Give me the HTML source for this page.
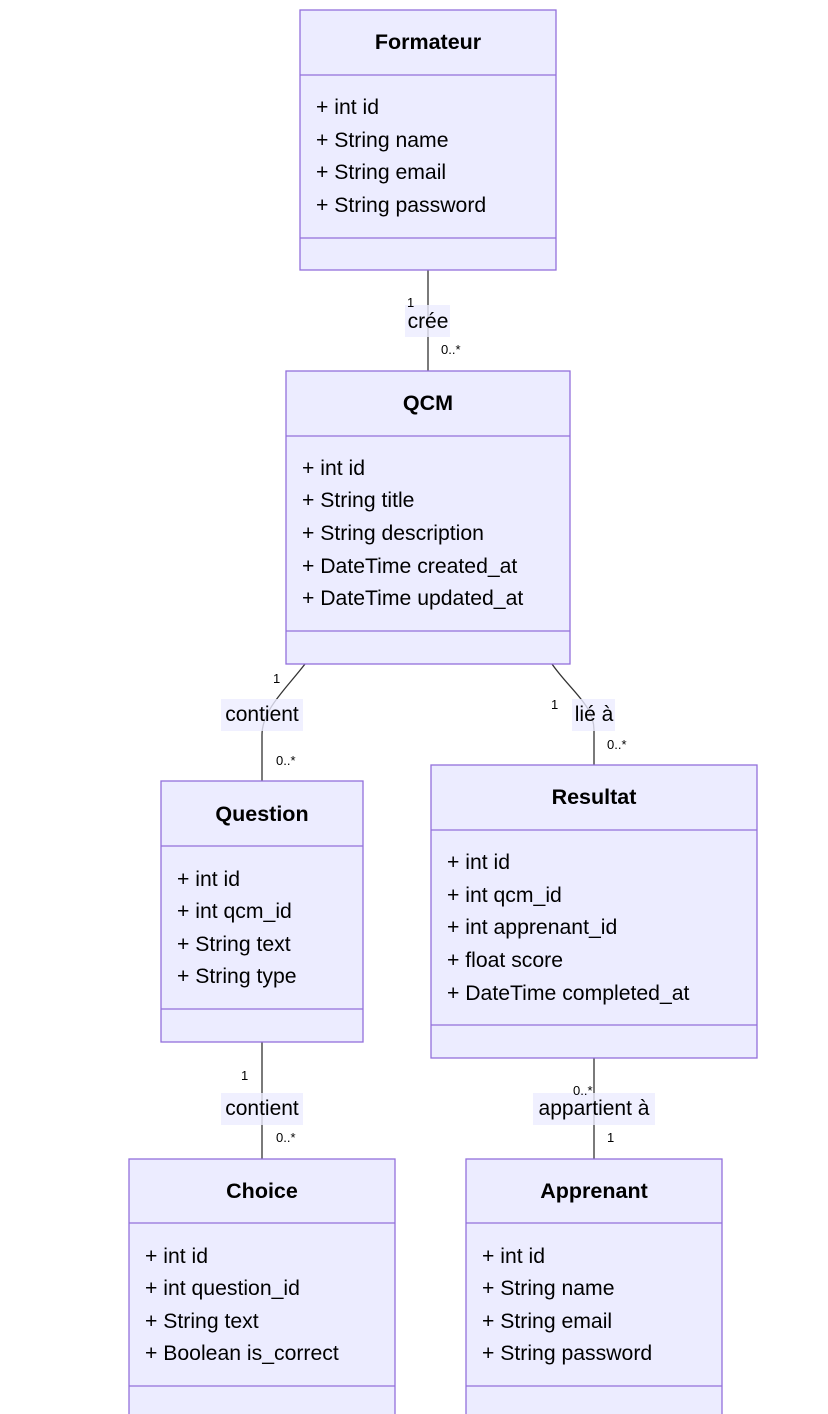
<!DOCTYPE html>
<html><head><meta charset="utf-8"><style>
html,body{margin:0;padding:0;background:#fff;}
svg{display:block;}
text{font-family:"Liberation Sans","DejaVu Sans",sans-serif;fill:#000;}
.t{font-weight:bold;font-size:21.5px;text-anchor:middle;}
.a{font-size:21.2px;}
.l{font-size:21px;text-anchor:middle;}
.c{font-size:13px;}
.b{fill:#ECECFF;stroke:#9370DB;stroke-width:1.3;}
.ln{stroke:#9370DB;stroke-width:1.3;}
.e{stroke:#333;stroke-width:1.3;fill:none;}
.lb{fill:#ECECFF;opacity:0.8;}
</style></head><body>
<svg width="828" height="1414" viewBox="0 0 828 1414" xmlns="http://www.w3.org/2000/svg">
<line class="e" x1="428" y1="270" x2="428" y2="371"/>
<path class="e" d="M305,664 C285,690 262,710 262,735 L262,781"/>
<path class="e" d="M552,664 C570,690 594,705 594,730 L594,765"/>
<line class="e" x1="262" y1="1042" x2="262" y2="1159"/>
<line class="e" x1="594" y1="1058" x2="594" y2="1159"/>
<rect class="lb" x="405" y="305" width="45" height="32"/><text class="l" x="428" y="328">crée</text>
<rect class="lb" x="221" y="699" width="82" height="32"/><text class="l" x="262" y="721">contient</text>
<rect class="lb" x="572" y="699" width="43" height="32"/><text class="l" x="594" y="721">lié à</text>
<rect class="lb" x="221" y="1093" width="82" height="32"/><text class="l" x="262" y="1115">contient</text>
<rect class="lb" x="533" y="1093" width="122" height="32"/><text class="l" x="594" y="1115">appartient à</text>
<text class="c" x="407" y="307">1</text><text class="c" x="441" y="354">0..*</text>
<text class="c" x="273" y="683">1</text><text class="c" x="276" y="765">0..*</text>
<text class="c" x="551" y="709">1</text><text class="c" x="607" y="749">0..*</text>
<text class="c" x="241" y="1080">1</text><text class="c" x="276" y="1142">0..*</text>
<text class="c" x="573" y="1095">0..*</text><text class="c" x="607" y="1142">1</text>
<rect class="b" x="300" y="10" width="256" height="260"/>
<line class="ln" x1="300" y1="75" x2="556" y2="75"/><line class="ln" x1="300" y1="238" x2="556" y2="238"/>
<text class="t" x="428" y="49">Formateur</text>
<text class="a" x="316" y="114">+ int id</text><text class="a" x="316" y="147">+ String name</text>
<text class="a" x="316" y="179">+ String email</text><text class="a" x="316" y="212">+ String password</text>
<rect class="b" x="286" y="371" width="284" height="293"/>
<line class="ln" x1="286" y1="436" x2="570" y2="436"/><line class="ln" x1="286" y1="631" x2="570" y2="631"/>
<text class="t" x="428" y="410">QCM</text>
<text class="a" x="302" y="475">+ int id</text><text class="a" x="302" y="507">+ String title</text>
<text class="a" x="302" y="540">+ String description</text><text class="a" x="302" y="573">+ DateTime created_at</text>
<text class="a" x="302" y="605">+ DateTime updated_at</text>
<rect class="b" x="161" y="781" width="202" height="261"/>
<line class="ln" x1="161" y1="846" x2="363" y2="846"/><line class="ln" x1="161" y1="1009" x2="363" y2="1009"/>
<text class="t" x="262" y="821">Question</text>
<text class="a" x="177" y="886">+ int id</text><text class="a" x="177" y="918">+ int qcm_id</text>
<text class="a" x="177" y="951">+ String text</text><text class="a" x="177" y="983">+ String type</text>
<rect class="b" x="431" y="765" width="326" height="293"/>
<line class="ln" x1="431" y1="830" x2="757" y2="830"/><line class="ln" x1="431" y1="1025" x2="757" y2="1025"/>
<text class="t" x="594" y="804">Resultat</text>
<text class="a" x="447" y="869">+ int id</text><text class="a" x="447" y="902">+ int qcm_id</text>
<text class="a" x="447" y="934">+ int apprenant_id</text><text class="a" x="447" y="967">+ float score</text>
<text class="a" x="447" y="1000">+ DateTime completed_at</text>
<rect class="b" x="129" y="1159" width="266" height="270"/>
<line class="ln" x1="129" y1="1223" x2="395" y2="1223"/><line class="ln" x1="129" y1="1386" x2="395" y2="1386"/>
<text class="t" x="262" y="1198">Choice</text>
<text class="a" x="145" y="1263">+ int id</text><text class="a" x="145" y="1295">+ int question_id</text>
<text class="a" x="145" y="1328">+ String text</text><text class="a" x="145" y="1360">+ Boolean is_correct</text>
<rect class="b" x="466" y="1159" width="256" height="270"/>
<line class="ln" x1="466" y1="1223" x2="722" y2="1223"/><line class="ln" x1="466" y1="1386" x2="722" y2="1386"/>
<text class="t" x="594" y="1198">Apprenant</text>
<text class="a" x="482" y="1263">+ int id</text><text class="a" x="482" y="1295">+ String name</text>
<text class="a" x="482" y="1328">+ String email</text><text class="a" x="482" y="1360">+ String password</text>
</svg>
</body></html>
